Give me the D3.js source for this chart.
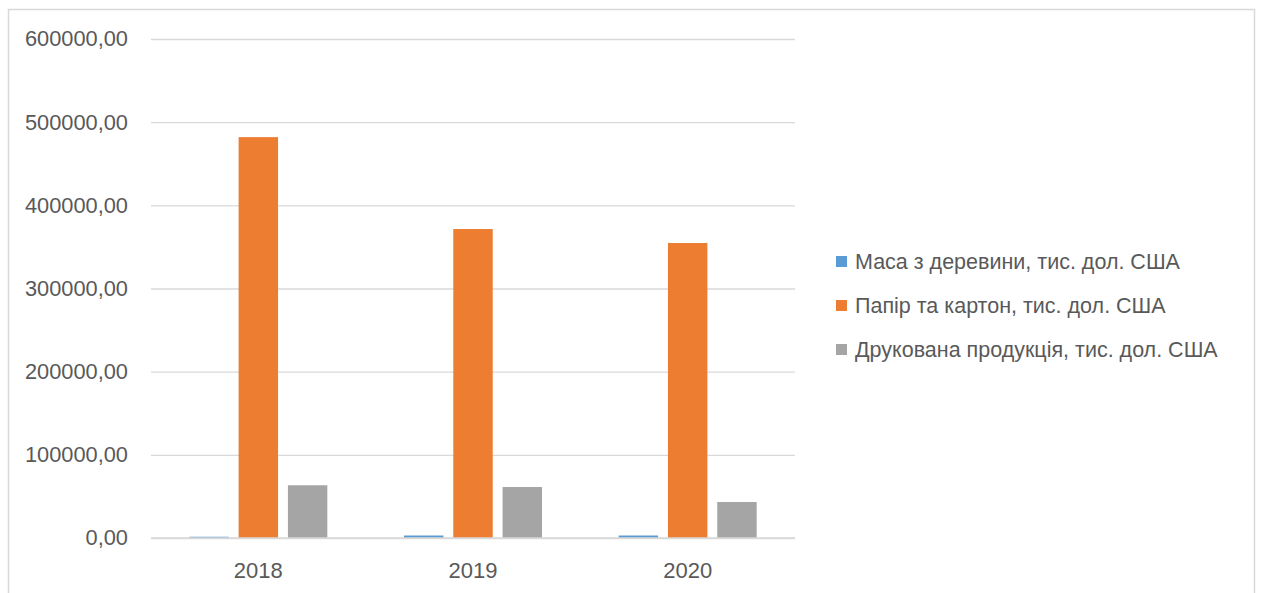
<!DOCTYPE html>
<html><head><meta charset="utf-8">
<script src="https://cdn.jsdelivr.net/npm/d3@7"></script>
<style>body{margin:0;background:#fff}svg{display:block}text{font-family:"Liberation Sans",Arial,sans-serif;fill:#595959}</style>
</head><body><svg id="c" width="1261" height="593"></svg>
<script>
const years = ["2018","2019","2020"];
const seriesNames = ["Маса з деревини, тис. дол. США","Папір та картон, тис. дол. США","Друкована продукція, тис. дол. США"];
const pulp = [1500, 3000, 3000];
const paper = [482000, 371500, 354700];
const printed = [63400, 61300, 43300];
const yTicks = [0,100000,200000,300000,400000,500000,600000];
const colors = ["#5b9bd5","#ed7d31","#a5a5a5"];

const svg = d3.select("#c");
const values = [pulp, paper, printed];
svg.append("rect").attr("x",8.5).attr("y",9.5).attr("width",1246).attr("height",620)
  .attr("fill","none").attr("stroke","#d9d9d9").attr("stroke-width",1.5);

const x0 = d3.scaleBand().domain(years).range([151,795]).paddingInner(0).paddingOuter(0);
const x1 = d3.scaleBand().domain(d3.range(3)).range([x0.bandwidth()/2-69, x0.bandwidth()/2+69]).paddingInner(0.2);
const y = d3.scaleLinear().domain([0,600000]).range([538,39]);
const fmt = v => d3.format(".2f")(v).replace(".",",");

const yAxis = svg.append("g").attr("transform","translate(151,0)")
  .call(d3.axisLeft(y).tickValues(yTicks).tickSize(-644).tickFormat(fmt).tickPadding(23));
yAxis.select(".domain").remove();
yAxis.selectAll("line").attr("stroke","#d9d9d9").attr("stroke-width",1.3);
yAxis.selectAll("text").style("font-size","21.8px").attr("fill","#595959").attr("font-family",null);

const g = svg.append("g");
years.forEach((yr,i)=>{
  values.forEach((arr,s)=>{
    g.append("rect").attr("x",x0(yr)+x1(s)).attr("width",x1.bandwidth())
      .attr("y",y(arr[i])).attr("height",y(0)-y(arr[i])).attr("fill",colors[s]);
  });
});
svg.append("line").attr("x1",151).attr("x2",795).attr("y1",y(0)).attr("y2",y(0)).attr("stroke","#d9d9d9").attr("stroke-width",1.5);

const xAxis = svg.append("g").attr("transform","translate(0,538)")
  .call(d3.axisBottom(x0).tickSize(0).tickPadding(24));
xAxis.select(".domain").remove();
xAxis.selectAll("text").style("font-size","22px").attr("fill","#595959").attr("font-family",null);

const leg = svg.append("g");
const legY = [261, 305, 349];
seriesNames.forEach((n,i)=>{
  leg.append("rect").attr("x",836).attr("y",legY[i]-5).attr("width",11).attr("height",11).attr("fill",colors[i]);
  leg.append("text").attr("x",855).attr("y",legY[i]).attr("dy","0.35em").style("font-size","21.5px").text(n);
});
</script></body></html>
